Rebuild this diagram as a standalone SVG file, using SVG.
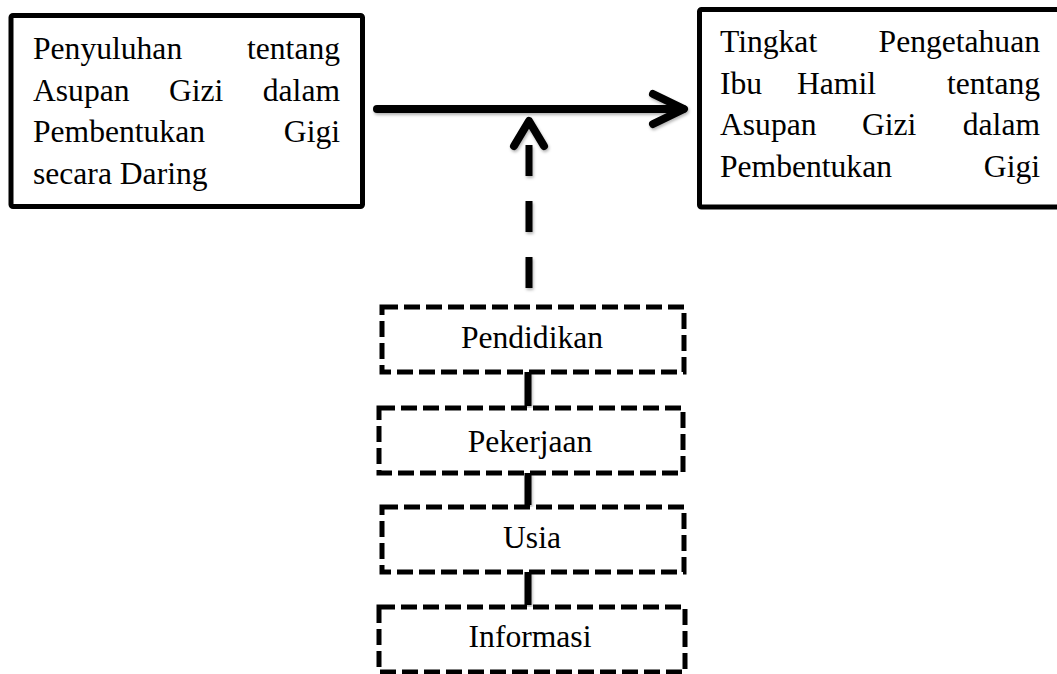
<svg xmlns="http://www.w3.org/2000/svg" width="1057" height="674" viewBox="0 0 1057 674">
<style>
text{font-family:"Liberation Serif","Times New Roman",serif;font-size:31.6px;fill:#000}
.solid{fill:#fff;stroke:#000;stroke-width:5}
.dash{fill:#fff;stroke:#000;stroke-width:5;stroke-dasharray:16 6}
.line{fill:none;stroke:#000;stroke-width:8;stroke-linecap:round;stroke-linejoin:round}
.dline{fill:none;stroke:#000;stroke-width:7;stroke-dasharray:31 25}
.mid{text-anchor:middle}
.end{text-anchor:end}
</style>
<defs>
<filter id="sh" x="-20%" y="-20%" width="140%" height="160%">
<feDropShadow dx="1" dy="2" stdDeviation="1.5" flood-color="#000" flood-opacity="0.3"/>
</filter>
</defs>
<rect width="1057" height="674" fill="#fff"/>
<g id="connectors" filter="url(#sh)">
<line class="line" x1="377" y1="109" x2="683" y2="109"/>
<polyline class="line" points="653,94 684,109 653,124"/>
<polyline class="line" points="514,146 529,121 544,146"/>
<line class="dline" x1="529" y1="145" x2="529" y2="305"/>
<line x1="528" y1="372" x2="528" y2="406" stroke="#000" stroke-width="7"/>
<line x1="528" y1="473" x2="528" y2="505" stroke="#000" stroke-width="7"/>
<line x1="528" y1="572" x2="528" y2="605" stroke="#000" stroke-width="7"/>
</g>
<g id="penyuluhan">
<rect class="solid" x="11" y="15.5" width="351.5" height="191" rx="2"/>
<text x="33" y="59">Penyuluhan</text><text class="end" x="340" y="59">tentang</text>
<text x="33" y="100.5">Asupan</text><text x="169" y="100.5">Gizi</text><text class="end" x="340" y="100.5">dalam</text>
<text x="33" y="142">Pembentukan</text><text class="end" x="340" y="142">Gigi</text>
<text x="33" y="183.5">secara Daring</text>
</g>
<g id="tingkat">
<rect class="solid" x="699.5" y="9.5" width="400" height="197.5" rx="2"/>
<text x="720" y="52">Tingkat</text><text class="end" x="1040" y="52">Pengetahuan</text>
<text x="720" y="93.5">Ibu</text><text x="797" y="93.5">Hamil</text><text class="end" x="1040" y="93.5">tentang</text>
<text x="720" y="135">Asupan</text><text x="862" y="135">Gizi</text><text class="end" x="1040" y="135">dalam</text>
<text x="720" y="176.5">Pembentukan</text><text class="end" x="1040" y="176.5">Gigi</text>
</g>
<g id="pendidikan">
<rect class="dash" x="382" y="307" width="302" height="65"/>
<text class="mid" x="532" y="348">Pendidikan</text>
</g>
<g id="pekerjaan">
<rect class="dash" x="379" y="408" width="304" height="65"/>
<text class="mid" x="530" y="452">Pekerjaan</text>
</g>
<g id="usia">
<rect class="dash" x="382" y="507" width="302" height="65"/>
<text class="mid" x="532" y="548">Usia</text>
</g>
<g id="informasi">
<rect class="dash" x="379" y="607" width="306" height="65"/>
<text class="mid" x="530" y="647">Informasi</text>
</g>
</svg>
